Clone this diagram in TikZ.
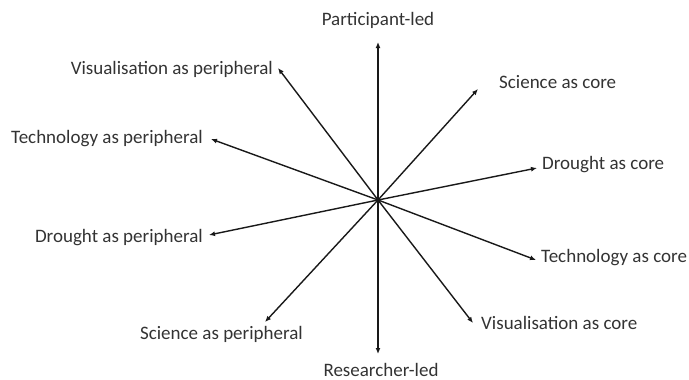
\documentclass[tikz,border=0pt]{standalone}
\usepackage{fontspec}
\setmainfont{Carlito}
\usetikzlibrary{arrows.meta}
\begin{document}
\begin{tikzpicture}[x=1pt,y=-1pt,
  arr/.style={-{Latex[length=6pt,width=5pt]}, line width=1.4pt, black!90},
  lbl/.style={font=\fontsize{19}{22}\selectfont, inner sep=0pt, text=black!80}]
\useasboundingbox (0,0) rectangle (689,380);
\coordinate (c) at (378,200);
\coordinate (pu) at (378,42);
\coordinate (pd) at (378,354);
\coordinate (vp) at (278,68);
\coordinate (tp) at (211,139);
\coordinate (dp) at (209,235);
\coordinate (sp) at (265,322);
\coordinate (sc) at (478,89);
\coordinate (dc) at (537,168);
\coordinate (tc) at (536,260);
\coordinate (vc) at (473,323);
\foreach \t in {pu,pd,vp,tp,dp,sp,sc,dc,tc,vc} \draw[arr] (c) -- (\t);
\node[lbl, anchor=base] (lpu) at (378,25) {Participant-led};
\node[lbl, anchor=base] (lpd) at (381,376) {Researcher-led};
\node[lbl, anchor=base east] (lvp) at (273,74) {Visualisation as peripheral};
\node[lbl, anchor=base east] (ltp) at (203,143) {Technology as peripheral};
\node[lbl, anchor=base east] (ldp) at (203,242) {Drought as peripheral};
\node[lbl, anchor=base east] (lsp) at (303,339) {Science as peripheral};
\node[lbl, anchor=base west] (lsc) at (499,88) {Science as core};
\node[lbl, anchor=base west] (ldc) at (542,169) {Drought as core};
\node[lbl, anchor=base west] (ltc) at (541,262) {Technology as core};
\node[lbl, anchor=base west] (lvc) at (481,329) {Visualisation as core};
\end{tikzpicture}
\end{document}
